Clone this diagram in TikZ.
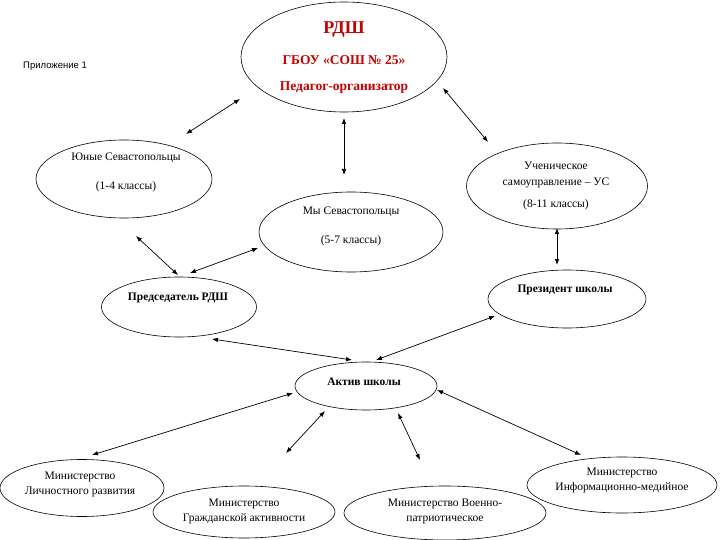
\documentclass[tikz,border=0pt]{standalone}
\usepackage{fontspec}
\setmainfont{Liberation Serif}
\newfontfamily\appfont{Liberation Sans}
\usetikzlibrary{shapes.geometric,arrows.meta}
\definecolor{rdred}{RGB}{200,0,0}
\begin{document}
\begin{tikzpicture}[x=1pt,y=-1pt,
  ell/.style={draw,ellipse,line width=0.6pt,inner sep=0pt},
  txt/.style={inner sep=0pt,align=center,font=\fontsize{11.5}{15}\selectfont},
  btxt/.style={inner sep=0pt,align=center,font=\fontsize{11.5}{15}\selectfont\bfseries},
  tip/.tip={Latex[length=6pt,width=4.5pt]},
  conn/.style={tip-tip,line width=0.7pt}]
\useasboundingbox (0,0) rectangle (720,540);
% ellipses
\node[ell,minimum width=206pt,minimum height=110pt] (rdsh) at (344,57) {};
\node[ell,minimum width=176pt,minimum height=78pt] (yun) at (124,179) {};
\node[ell,minimum width=184pt,minimum height=80pt] (my) at (351,232) {};
\node[ell,minimum width=181pt,minimum height=86pt] (uch) at (557,186) {};
\node[ell,minimum width=155pt,minimum height=60pt] (pred) at (179,307) {};
\node[ell,minimum width=158pt,minimum height=58pt] (prez) at (567,299) {};
\node[ell,minimum width=142pt,minimum height=48pt] (akt) at (366,386) {};
\node[ell,minimum width=164pt,minimum height=57pt] (lich) at (82,488) {};
\node[ell,minimum width=182pt,minimum height=52pt] (grazh) at (244,512) {};
\node[ell,minimum width=202pt,minimum height=54pt] (voen) at (445,513) {};
\node[ell,minimum width=190pt,minimum height=56pt] (inf) at (622,485) {};
% texts
\node[inner sep=0pt,anchor=west,font=\appfont\fontsize{9.5}{11}\selectfont] (pril) at (23,66) {Приложение 1};
\node[inner sep=0pt,font=\fontsize{18}{20}\selectfont\bfseries,text=rdred] (rdsh-t1) at (344,30) {РДШ};
\node[inner sep=0pt,font=\fontsize{13.5}{16}\selectfont\bfseries,text=rdred] (rdsh-t2) at (344,60) {ГБОУ «СОШ №~25»};
\node[inner sep=0pt,font=\fontsize{13.5}{16}\selectfont\bfseries,text=rdred] (rdsh-t3) at (344,88) {Педагог-организатор};
\node[txt] (yun-t1) at (126,158) {Юные Севастопольцы};
\node[txt] (yun-t2) at (126,187) {(1-4 классы)};
\node[txt] (my-t1) at (351,212) {Мы Севастопольцы};
\node[txt] (my-t2) at (351,241) {(5-7 классы)};
\node[txt] (uch-t1) at (556,166) {Ученическое};
\node[txt] (uch-t2) at (556,183) {самоуправление – УС};
\node[txt] (uch-t3) at (556,205) {(8-11 классы)};
\node[btxt] (pred-t) at (178,298) {Председатель РДШ};
\node[btxt] (prez-t) at (565,290) {Президент школы};
\node[btxt] (akt-t) at (364,382) {Актив школы};
\node[txt] (lich-t) at (80,484) {Министерство\\Личностного развития};
\node[txt] (grazh-t) at (244,511) {Министерство\\Гражданской активности};
\node[txt] (voen-t) at (445,511) {Министерство Военно-\\патриотическое};
\node[txt] (inf-t) at (622,480) {Министерство\\Информационно-медийное};
% connector ends
\coordinate (a1s) at (186,134); \coordinate (a1e) at (240,99);
\coordinate (a2s) at (344,118); \coordinate (a2e) at (344,175);
\coordinate (a3s) at (443,88); \coordinate (a3e) at (488,142);
\coordinate (a4s) at (136,236); \coordinate (a4e) at (178,275);
\coordinate (a5s) at (190,273); \coordinate (a5e) at (258,248);
\coordinate (a6s) at (557,228); \coordinate (a6e) at (557,265);
\coordinate (a7s) at (212,339); \coordinate (a7e) at (352,360);
\coordinate (a8s) at (495,316); \coordinate (a8e) at (376,360);
\coordinate (a9s) at (293,393); \coordinate (a9e) at (92,455);
\coordinate (a10s) at (325,411); \coordinate (a10e) at (286,453);
\coordinate (a11s) at (398,413); \coordinate (a11e) at (420,460);
\coordinate (a12s) at (437,390); \coordinate (a12e) at (581,455);
\draw[conn] (a1s) -- (a1e);
\draw[conn] (a2s) -- (a2e);
\draw[conn] (a3s) -- (a3e);
\draw[conn] (a4s) -- (a4e);
\draw[conn] (a5s) -- (a5e);
\draw[conn] (a6s) -- (a6e);
\draw[conn] (a7s) -- (a7e);
\draw[conn] (a8s) -- (a8e);
\draw[conn] (a9s) -- (a9e);
\draw[conn] (a10s) -- (a10e);
\draw[conn] (a11s) -- (a11e);
\draw[conn] (a12s) -- (a12e);
\end{tikzpicture}
\end{document}
